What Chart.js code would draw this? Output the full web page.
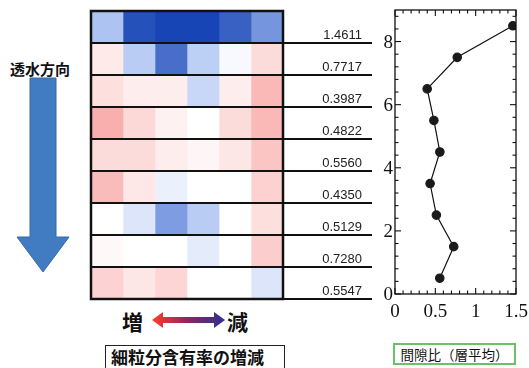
<!DOCTYPE html>
<html>
<head>
<meta charset="utf-8">
<script src="https://cdn.jsdelivr.net/npm/chart.js@4"></script>
<style>
  body { margin: 0; background: #fff; width: 529px; height: 368px; overflow: hidden; position: relative; font-family: "Noto Sans CJK JP", sans-serif; }
  .abs { position: absolute; }
  #heatWrap { left: 80px; top: 0; width: 300px; height: 312px; }
  #lineWrap { left: 372px; top: 0; width: 157px; height: 340px; }
  #flowLabel { left: 10px; top: 58px; font-size: 15px; font-weight: 700; color: #111; letter-spacing: 0; }
  .big { font-size: 21px; font-weight: 700; color: #111; top: 306px; }
  #fineBox { left: 105px; top: 345px; width: 180px; height: 40px; border: 1.5px solid #222; box-sizing: border-box; font-size: 17px; font-weight: 700; padding-left: 5px; line-height: 22px; color: #111; }
  #voidBox { left: 393px; top: 343px; width: 123px; height: 22px; border: 2px solid #6cc06a; box-sizing: border-box; font-size: 13.5px; text-align: center; line-height: 18px; color: #111; }
</style>
</head>
<body>
<div id="flowLabel" class="abs">透水方向</div>
<svg class="abs" style="left:0;top:0" width="90" height="290">
  <path d="M30 78 H56 V237 H69 L43 272 L17 237 H30 Z" fill="#417cc2" stroke="#3569a6" stroke-width="1"/>
</svg>
<div class="abs big" style="left:122px">増</div>
<div class="abs big" style="left:227px">減</div>
<svg class="abs" style="left:150px;top:310px" width="78" height="20">
  <defs>
    <linearGradient id="g" x1="0" x2="1" y1="0" y2="0">
      <stop offset="0" stop-color="#ff3b2c"/>
      <stop offset="0.5" stop-color="#8c2563"/>
      <stop offset="1" stop-color="#2b2f92"/>
    </linearGradient>
  </defs>
  <path d="M2 10 L13 2 V7 H64 V2 L75 10 L64 18 V13 H13 V18 Z" fill="url(#g)"/>
</svg>
<div id="fineBox" class="abs">細粒分含有率の増減</div>
<div id="voidBox" class="abs">間隙比（層平均）</div>
<div id="heatWrap" class="abs"><canvas id="heat"></canvas></div>
<div id="lineWrap" class="abs"><canvas id="line"></canvas></div>
<script>
// layers, top to bottom
const layers = ["L9", "L8", "L7", "L6", "L5", "L4", "L3", "L2", "L1"];
const layerMid = [8.5, 7.5, 6.5, 5.5, 4.5, 3.5, 2.5, 1.5, 0.5];
const voidRatio = [1.4611, 0.7717, 0.3987, 0.4822, 0.5560, 0.4350, 0.5129, 0.7280, 0.5547];

// change of fines content per cell (+ = increase/red, - = decrease/blue), rows top to bottom
const row1 = [-0.42, -0.95, -1.0, -1.0, -0.88, -0.65];
const row2 = [0.12, -0.36, -0.82, -0.34, -0.04, 0.2];
const row3 = [0.18, 0.1, 0.1, -0.28, 0.1, 0.4];
const row4 = [0.45, 0.22, 0.08, 0, 0.2, 0.4];
const row5 = [0.2, 0.2, 0.1, 0.05, 0.14, 0.33];
const row6 = [0.38, 0.13, -0.1, 0, 0, 0.26];
const row7 = [0, -0.18, -0.62, -0.36, 0, 0.18];
const row8 = [0.04, 0, 0, -0.14, 0, 0.28];
const row9 = [0.25, 0.14, 0.24, 0, 0, -0.18];
const heatRows = [row1, row2, row3, row4, row5, row6, row7, row8, row9];

const xTicks = [0, 0.5, 1, 1.5];
const yTicks = [0, 2, 4, 6, 8];

const stops = [
  [-1, [24, 69, 181]],
  [-0.5, [157, 184, 240]],
  [0, [255, 255, 255]],
  [1, [242, 78, 74]],
];

function cellColor(v) {
  for (let i = 0; i < stops.length - 1; i++) {
    const [a, ca] = stops[i];
    const [b, cb] = stops[i + 1];
    if (v >= a && v <= b) {
      const t = (v - a) / (b - a);
      const c = ca.map((x, k) => Math.round(x + (cb[k] - x) * t));
      return `rgb(${c[0]},${c[1]},${c[2]})`;
    }
  }
  return "#fff";
}

const heatDatasets = row1.map((_, col) => ({
  data: layers.map(() => 1),
  backgroundColor: (c) => cellColor(heatRows[c.dataIndex][col]),
  borderWidth: 0,
  barPercentage: 1,
  categoryPercentage: 1,
}));

const rowLines = {
  id: "rowLines",
  afterDraw(chart) {
    const { ctx, chartArea: a, scales } = chart;
    const ys = scales.y;
    const rowH = ys.getPixelForValue(1) - ys.getPixelForValue(0);
    ctx.save();
    ctx.strokeStyle = "#111";
    ctx.lineWidth = 2.5;
    ctx.strokeRect(a.left, a.top, a.right - a.left, a.bottom - a.top);
    ctx.lineWidth = 2;
    ctx.font = "13px 'Liberation Sans', Arial, sans-serif";
    ctx.fillStyle = "#222";
    ctx.textAlign = "right";
    layers.forEach((_, i) => {
      const yb = ys.getPixelForValue(i) + rowH / 2;
      ctx.beginPath();
      ctx.moveTo(a.left, yb);
      ctx.lineTo(a.right + 89, yb);
      ctx.stroke();
      ctx.fillText(voidRatio[i].toFixed(4), a.right + 79, yb - 4);
    });
    ctx.restore();
  },
};

new Chart(document.getElementById("heat"), {
  type: "bar",
  data: { labels: layers, datasets: heatDatasets },
  options: {
    indexAxis: "y",
    responsive: true,
    maintainAspectRatio: false,
    animation: false,
    layout: { padding: { left: 11, right: 97, top: 11, bottom: 13 } },
    scales: {
      x: { stacked: true, min: 0, max: 6, display: false },
      y: { stacked: true, display: false },
    },
    plugins: { legend: { display: false }, tooltip: { enabled: false } },
  },
  plugins: [rowLines],
});

// frame, inward ticks on all four sides and the tick labels
const frameTicks = {
  id: "frameTicks",
  afterDraw(chart) {
    const { ctx, chartArea: a, scales } = chart;
    const xs = scales.x, ys = scales.y;
    ctx.save();
    ctx.strokeStyle = "#111";
    ctx.lineWidth = 1.3;
    ctx.strokeRect(a.left, a.top, a.right - a.left, a.bottom - a.top);
    ctx.lineWidth = 1.1;
    const tick = (x1, y1, x2, y2) => { ctx.beginPath(); ctx.moveTo(x1, y1); ctx.lineTo(x2, y2); ctx.stroke(); };
    for (let i = 0; i <= 15; i++) {
      const px = xs.getPixelForValue(i / 10);
      const len = i % 5 === 0 ? 6 : 3.5;
      tick(px, a.bottom, px, a.bottom - len);
      tick(px, a.top, px, a.top + len);
    }
    for (let i = 0; i <= 22; i++) {
      const py = ys.getPixelForValue(i * 0.4);
      const len = i % 5 === 0 ? 6 : 3.5;
      tick(a.left, py, a.left + len, py);
      tick(a.right, py, a.right - len, py);
    }
    ctx.fillStyle = "#111";
    ctx.font = "19px 'Liberation Serif', 'Times New Roman', serif";
    ctx.textAlign = "center";
    ctx.textBaseline = "alphabetic";
    xTicks.forEach((v) => ctx.fillText(String(v), xs.getPixelForValue(v), a.bottom + 23));
    ctx.textAlign = "right";
    yTicks.forEach((v) => ctx.fillText(String(v), a.left - 2, ys.getPixelForValue(v) + 6));
    ctx.restore();
  },
};

new Chart(document.getElementById("line"), {
  type: "line",
  data: {
    datasets: [{
      data: voidRatio.map((v, i) => ({ x: v, y: layerMid[i] })),
      borderColor: "#111",
      borderWidth: 1.2,
      pointRadius: 4.2,
      pointBackgroundColor: "#1a1a1a",
      pointBorderColor: "#1a1a1a",
      tension: 0,
    }],
  },
  options: {
    responsive: true,
    maintainAspectRatio: false,
    animation: false,
    layout: { padding: { left: 23, right: 13, top: 10, bottom: 46 } },
    scales: {
      x: { type: "linear", min: 0, max: 1.5, display: false },
      y: { type: "linear", min: 0, max: 9, display: false },
    },
    plugins: { legend: { display: false }, tooltip: { enabled: false } },
  },
  plugins: [frameTicks],
});
</script>
</body>
</html>
